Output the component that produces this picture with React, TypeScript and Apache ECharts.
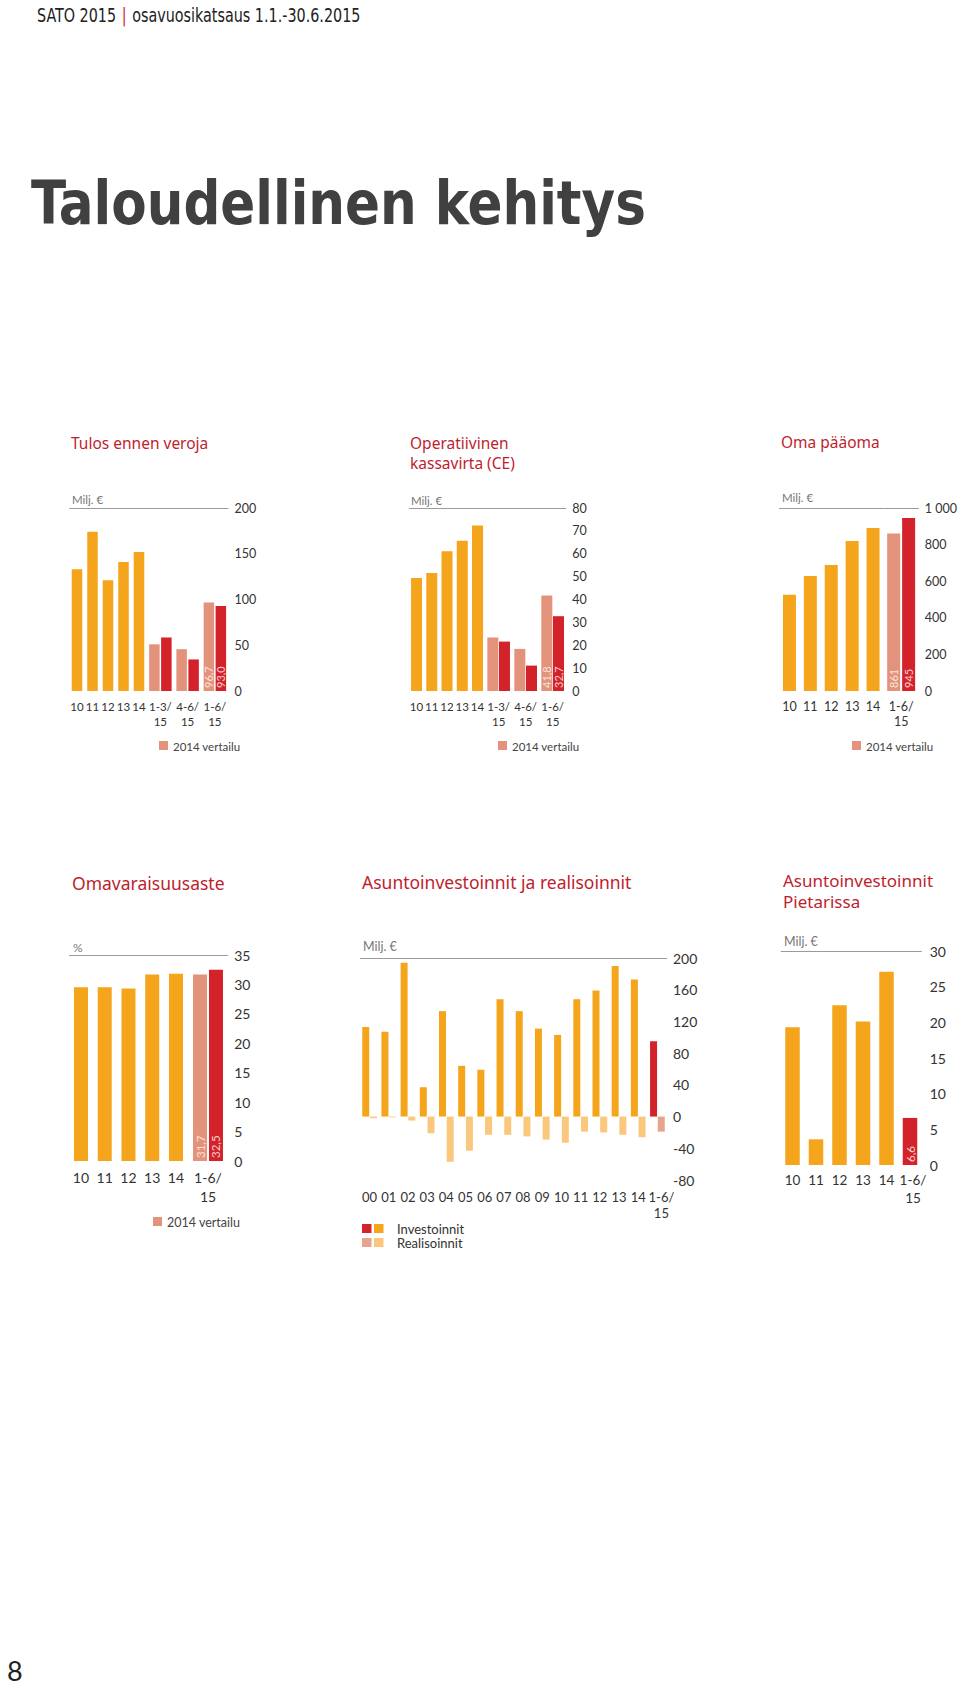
import React, { useEffect, useRef } from "react";
import * as echarts from "echarts";

// ---------- colours ----------
const ORANGE = "#F5A51C";
const RED = "#D3222A";
const SALMON = "#E3927C";
const LIGHT_ORANGE = "#FAC77C";
const LIGHT_SALMON = "#E8A38F";
const TITLE_RED = "#BE1E2D";
const AXIS_TXT = "#333333";
const LINE = "#9B9B9B";
const FONT = "Lato, 'Noto Sans', sans-serif";
const TFONT = "'Noto Sans', 'Open Sans', sans-serif";
const HFONT = "'DejaVu Sans Condensed', 'DejaVu Sans', sans-serif";

// ---------- data ----------
// Tulos ennen veroja (Milj. €)
const c1Years = ["10", "11", "12", "13", "14"];
const c1YearVals = [133, 174, 121, 141, 152];
const c1Periods = ["1-3/\n15", "4-6/\n15", "1-6/\n15"];
const c1Cmp2014 = [51.0, 45.7, 96.7];
const c1Cur2015 = [58.5, 34.5, 93.0];

// Operatiivinen kassavirta (CE) (Milj. €)
const c2Years = ["10", "11", "12", "13", "14"];
const c2YearVals = [49.4, 51.6, 61.1, 65.7, 72.4];
const c2Periods = ["1-3/\n15", "4-6/\n15", "1-6/\n15"];
const c2Cmp2014 = [23.4, 18.4, 41.8];
const c2Cur2015 = [21.6, 11.1, 32.7];

// Oma pääoma (Milj. €)
const c3Years = ["10", "11", "12", "13", "14"];
const c3YearVals = [526, 629, 688, 819, 891];
const c3Periods = ["1-6/\n15"];
const c3Cmp2014 = [861];
const c3Cur2015 = [945];

// Omavaraisuusaste (%)
const c4Years = ["10", "11", "12", "13", "14"];
const c4YearVals = [29.5, 29.5, 29.3, 31.7, 31.8];
const c4Periods = ["1-6/\n15"];
const c4Cmp2014 = [31.7];
const c4Cur2015 = [32.5];

// Asuntoinvestoinnit ja realisoinnit (Milj. €)
const c5Cats = ["00", "01", "02", "03", "04", "05", "06", "07", "08", "09", "10", "11", "12", "13", "14", "1-6/\n15"];
const c5Invest = [113, 107, 194, 37, 133, 64, 59, 148, 133, 111, 103, 148, 159, 190, 173, 95];
const c5Real = [-2, -1, -5, -21, -57, -43, -23, -23, -25, -29, -33, -19, -20, -23, -26, -19];

// Asuntoinvestoinnit Pietarissa (Milj. €)
const c6Cats = ["10", "11", "12", "13", "14", "1-6/\n15"];
const c6Vals = [19.3, 3.6, 22.4, 20.1, 27.1, 6.6];

const fmt1 = (v: number) => v.toFixed(1).replace(".", ",");
const fmt0 = (v: number) => v.toFixed(0);

type PairCfg = {
  years: string[];
  yearVals: number[];
  periods: string[];
  cmp: number[];
  cur: number[];
  aLeft: number;
  aWidth: number;
  bWidth: number;
  top: number;
  height: number;
  min: number;
  max: number;
  interval: number;
  fontSize: number;
  yFontSize: number;
  lineHeight: number;
  margin: number;
  barWidth: number;
  barGap: string;
  labelFont: number;
  valFmt: (v: number) => string;
  yFmt?: (v: number) => string;
};

function insideLabel(v: number, color: string, size: number, f: (v: number) => string) {
  return {
    value: v,
    label: {
      show: true,
      position: "insideBottom",
      rotate: 90,
      align: "left",
      verticalAlign: "middle",
      distance: 3,
      color,
      fontSize: size,
      fontFamily: FONT,
      formatter: () => f(v),
    },
  };
}

function topLine(max: number) {
  return {
    silent: true,
    symbol: ["none", "none"],
    label: { show: false },
    lineStyle: { color: LINE, width: 1, type: "solid" },
    data: [{ yAxis: max }],
  };
}

function catAxis(gi: number, data: string[], c: { margin: number; fontSize: number; lineHeight: number }, extra: any = {}) {
  return {
    type: "category",
    gridIndex: gi,
    data,
    axisLine: { show: false, onZero: false },
    axisTick: { show: false },
    splitLine: { show: false },
    axisLabel: {
      interval: 0,
      margin: c.margin,
      fontSize: c.fontSize,
      lineHeight: c.lineHeight,
      color: AXIS_TXT,
      fontFamily: FONT,
      ...extra,
    },
  };
}

function valAxis(gi: number, min: number, max: number, interval: number, show: boolean, fontSize: number, margin = 6, fmt?: any) {
  return {
    type: "value",
    gridIndex: gi,
    position: "right",
    show,
    min,
    max,
    interval,
    axisLine: { show: false },
    axisTick: { show: false },
    splitLine: { show: false },
    axisLabel: { margin, fontSize, color: AXIS_TXT, fontFamily: FONT, formatter: fmt },
  };
}

// years in one grid, comparison pairs in an adjoining grid sharing the same value scale
function addPairChart(o: any, c: PairCfg) {
  const ga = o.grid.length;
  o.grid.push({ left: c.aLeft, top: c.top, width: c.aWidth, height: c.height });
  const gb = ga + 1;
  o.grid.push({ left: c.aLeft + c.aWidth, top: c.top, width: c.bWidth, height: c.height });
  o.xAxis.push(catAxis(ga, c.years, c));
  o.xAxis.push(catAxis(gb, c.periods, c));
  o.yAxis.push(valAxis(ga, c.min, c.max, c.interval, false, c.yFontSize));
  o.yAxis.push(valAxis(gb, c.min, c.max, c.interval, true, c.yFontSize, 6, c.yFmt));
  const nP = c.periods.length;
  o.series.push({
    type: "bar",
    name: "years",
    xAxisIndex: ga,
    yAxisIndex: ga,
    barWidth: c.barWidth,
    itemStyle: { color: ORANGE },
    data: c.yearVals,
    markLine: topLine(c.max),
  });
  const base = { type: "bar", xAxisIndex: gb, yAxisIndex: gb, barWidth: c.barWidth, barGap: c.barGap };
  o.series.push({
    ...base,
    name: "2014 vertailu",
    itemStyle: { color: SALMON },
    data: c.cmp.map((v, i) => (i === nP - 1 ? insideLabel(v, "#FBE2D8", c.labelFont, c.valFmt) : v)),
    markLine: topLine(c.max),
  });
  o.series.push({
    ...base,
    name: "2015",
    itemStyle: { color: RED },
    data: c.cur.map((v, i) => (i === nP - 1 ? insideLabel(v, "#F8CFCF", c.labelFont, c.valFmt) : v)),
  });
}

function txt(x: number, y: number, text: string, size: number, fill: string, family = TFONT, weight: any = "normal", extra: any = {}) {
  return {
    type: "text",
    x,
    y,
    silent: true,
    style: { text, fill, fontSize: size, fontFamily: family, fontWeight: weight, align: "left", verticalAlign: "middle", ...extra },
  };
}

function rect(x: number, y: number, w: number, h: number, fill: string) {
  return { type: "rect", silent: true, shape: { x, y, width: w, height: h }, style: { fill } };
}

// shifts a two-line period label slightly to the right
function shiftedLast(pad: number, fontSize: number, lineHeight: number) {
  return {
    formatter: (v: string) => (v.includes("/") ? v.split("\n").map((l) => `{p|${l}}`).join("\n") : v),
    rich: { p: { padding: [0, 0, 0, pad], fontSize, lineHeight, color: AXIS_TXT, fontFamily: FONT } },
  };
}

function buildOption() {
  const o: any = { animation: false, grid: [], xAxis: [], yAxis: [], series: [] };
  const row1 = { top: 508, height: 183, fontSize: 11.5, yFontSize: 12.5, lineHeight: 15, margin: 8, labelFont: 11 };
  addPairChart(o, {
    ...row1,
    years: c1Years, yearVals: c1YearVals, periods: c1Periods, cmp: c1Cmp2014, cur: c1Cur2015,
    aLeft: 69.25, aWidth: 77.5, bWidth: 81.75, min: 0, max: 200, interval: 50, barWidth: 10.5, barGap: "14%",
    valFmt: fmt1,
  });
  addPairChart(o, {
    ...row1,
    years: c2Years, yearVals: c2YearVals, periods: c2Periods, cmp: c2Cmp2014, cur: c2Cur2015,
    aLeft: 408.9, aWidth: 76.25, bWidth: 81, min: 0, max: 80, interval: 10, barWidth: 11, barGap: "6%",
    valFmt: fmt1,
  });
  addPairChart(o, {
    ...row1,
    fontSize: 12.5,
    years: c3Years, yearVals: c3YearVals, periods: c3Periods, cmp: c3Cmp2014, cur: c3Cur2015,
    aLeft: 779, aWidth: 104.5, bWidth: 36, min: 0, max: 1000, interval: 200, barWidth: 13, barGap: "15%",
    valFmt: fmt0,
    yFmt: (v: number) => (v >= 1000 ? "1 000" : String(v)),
  });
  addPairChart(o, {
    top: 955, height: 206, fontSize: 14, yFontSize: 14, lineHeight: 19, margin: 7, labelFont: 11.5,
    years: c4Years, yearVals: c4YearVals, periods: c4Periods, cmp: c4Cmp2014, cur: c4Cur2015,
    aLeft: 69.1, aWidth: 118.75, bWidth: 40.3, min: 0, max: 35, interval: 5, barWidth: 14, barGap: "14%",
    valFmt: fmt1,
  });

  // chart 5
  const g5 = o.grid.length;
  o.grid.push({ left: 360, top: 958, width: 307, height: 222 });
  o.xAxis.push(catAxis(g5, c5Cats, { margin: 9, fontSize: 13, lineHeight: 16 }, shiftedLast(8, 13, 16)));
  o.yAxis.push(valAxis(g5, -80, 200, 40, true, 14, 6));
  const last5 = c5Cats.length - 1;
  o.series.push({
    type: "bar",
    name: "Investoinnit",
    xAxisIndex: g5,
    yAxisIndex: g5,
    barWidth: 7,
    barGap: "10%",
    data: c5Invest.map((v, i) => ({ value: v, itemStyle: { color: i === last5 ? RED : ORANGE } })),
    markLine: topLine(200),
  });
  o.series.push({
    type: "bar",
    name: "Realisoinnit",
    xAxisIndex: g5,
    yAxisIndex: g5,
    barWidth: 7,
    barGap: "10%",
    data: c5Real.map((v, i) => ({ value: v, itemStyle: { color: i === last5 ? LIGHT_SALMON : LIGHT_ORANGE } })),
  });

  // chart 6
  const g6 = o.grid.length;
  o.grid.push({ left: 780.75, top: 951, width: 141, height: 214 });
  o.xAxis.push(catAxis(g6, c6Cats, { margin: 6, fontSize: 13.5, lineHeight: 18 }, shiftedLast(6, 13.5, 18)));
  o.yAxis.push(valAxis(g6, 0, 30, 5, true, 14, 8));
  const last6 = c6Cats.length - 1;
  o.series.push({
    type: "bar",
    name: "Pietari",
    xAxisIndex: g6,
    yAxisIndex: g6,
    barWidth: 14.5,
    data: c6Vals.map((v, i) =>
      i === last6
        ? { ...insideLabel(v, "#F8CFCF", 11.5, fmt1), itemStyle: { color: RED } }
        : { value: v, itemStyle: { color: ORANGE } }
    ),
    markLine: topLine(30),
  });

  // texts
  const gray = "#777777";
  o.graphic = [
    {
      type: "text",
      x: 37,
      y: 16,
      scaleX: 0.84,
      silent: true,
      style: {
        text: "{a|SATO 2015}  {b||}  {a|osavuosikatsaus 1.1.-30.6.2015}",
        verticalAlign: "middle",
        align: "left",
        rich: {
          a: { fontSize: 19, fontFamily: HFONT, fill: "#222222" },
          b: { fontSize: 19, fontFamily: HFONT, fill: RED },
        },
      },
    },
    { ...txt(31, 203, "Taloudellinen kehitys", 61, "#404040", HFONT, "bold"), scaleX: 0.94 },
    // row 1 titles
    txt(71, 443, "Tulos ennen veroja", 15.5, TITLE_RED),
    txt(410, 443, "Operatiivinen", 15.5, TITLE_RED),
    txt(410, 462.5, "kassavirta (CE)", 15.5, TITLE_RED),
    txt(781, 442, "Oma pääoma", 15.5, TITLE_RED),
    txt(72, 499, "Milj. €", 11.5, gray, FONT),
    txt(411, 500, "Milj. €", 11.5, gray, FONT),
    txt(782, 497, "Milj. €", 11.5, gray, FONT),
    // row 1 legends
    rect(159, 741, 9, 9, SALMON),
    txt(173, 746, "2014 vertailu", 11.5, "#444444", FONT),
    rect(498, 741, 9, 9, SALMON),
    txt(512, 746, "2014 vertailu", 11.5, "#444444", FONT),
    rect(852, 741, 9, 9, SALMON),
    txt(866, 746, "2014 vertailu", 11.5, "#444444", FONT),
    // row 2 titles
    txt(72, 883, "Omavaraisuusaste", 17.5, TITLE_RED),
    txt(362, 882, "Asuntoinvestoinnit ja realisoinnit", 17.5, TITLE_RED),
    txt(783, 880.5, "Asuntoinvestoinnit", 17, TITLE_RED),
    txt(783, 901.5, "Pietarissa", 17, TITLE_RED),
    txt(73, 947, "%", 12, gray, FONT),
    txt(363, 946, "Milj. €", 12.5, gray, FONT),
    txt(784, 941, "Milj. €", 12.5, gray, FONT),
    // row 2 legends
    rect(153, 1217, 9, 9, SALMON),
    txt(167, 1222, "2014 vertailu", 12.5, "#444444", FONT),
    rect(362, 1224, 9.5, 9, RED),
    rect(374, 1224, 9.5, 9, ORANGE),
    txt(397, 1229, "Investoinnit", 13, "#333333", FONT),
    rect(362, 1238, 9.5, 9, LIGHT_SALMON),
    rect(374, 1238, 9.5, 9, LIGHT_ORANGE),
    txt(397, 1243, "Realisoinnit", 13, "#333333", FONT),
    // page number
    txt(7, 1670, "8", 27, "#222222", FONT),
  ];
  return o;
}

export default function App() {
  const ref = useRef<HTMLDivElement>(null);
  useEffect(() => {
    if (!ref.current) return;
    const chart = echarts.init(ref.current, undefined, { renderer: "svg" });
    chart.setOption(buildOption());
    return () => chart.dispose();
  }, []);
  return (
    <div
      ref={ref}
      style={{ position: "absolute", left: 0, top: 0, width: 960, height: 1685, background: "#ffffff" }}
    />
  );
}
